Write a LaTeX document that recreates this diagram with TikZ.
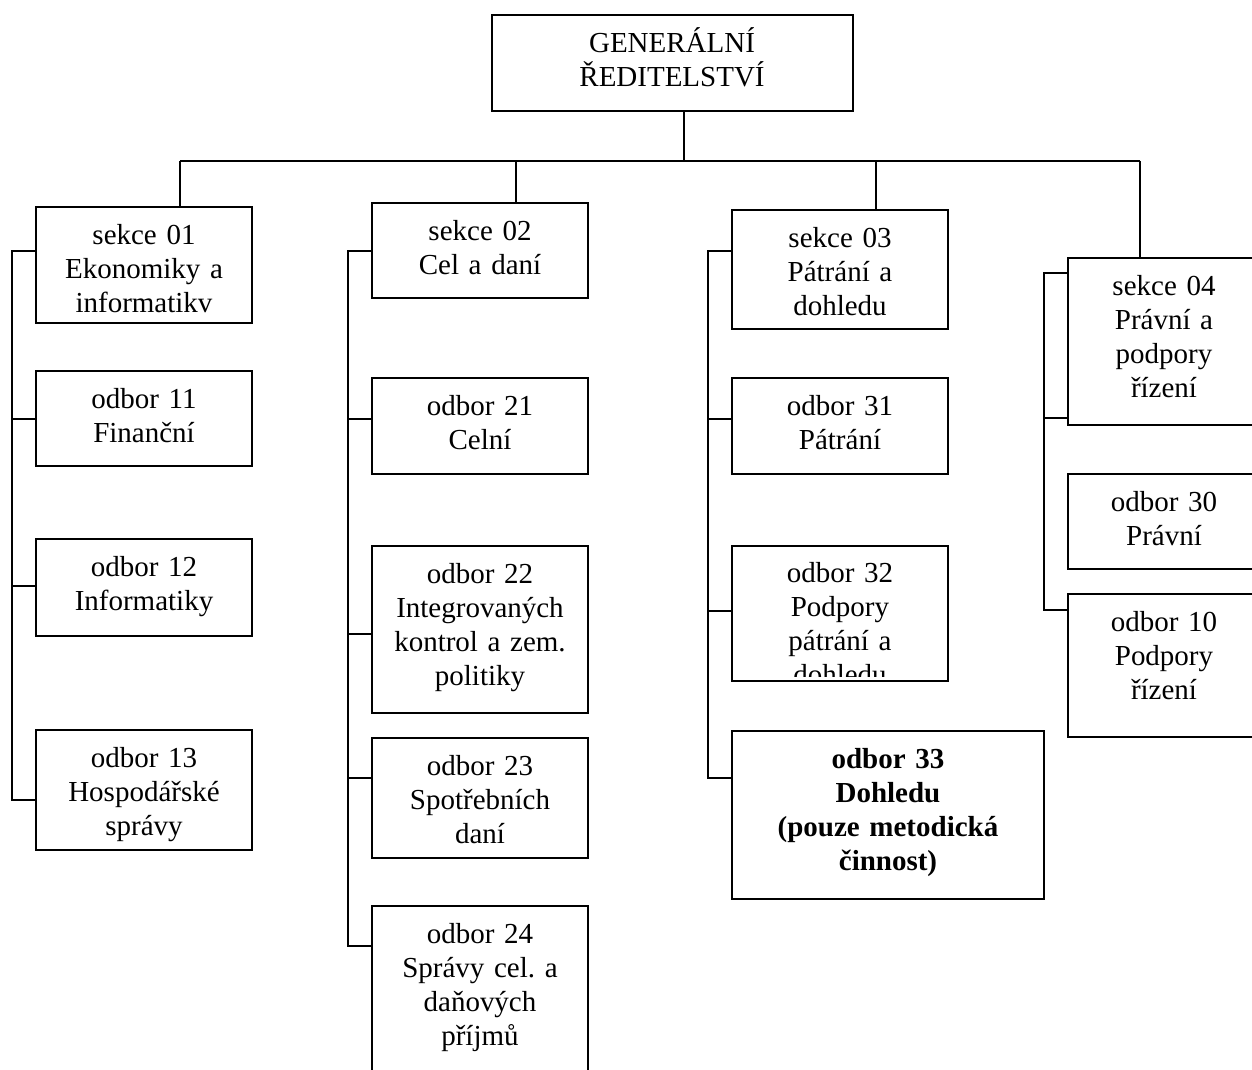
\documentclass[tikz,border=0pt]{standalone}
\usepackage{fontspec}
\setmainfont{Liberation Serif}
\frenchspacing
\usetikzlibrary{fit}
\tikzset{
  x=0.02cm, y=-0.02cm,
  box/.style={draw, line width=1.1pt, inner sep=0pt},
  lbl/.style={anchor=base, align=center, inner sep=0pt, text width=5cm,
              font=\fontsize{16.5}{19.27}\selectfont\frenchspacing},
  conn/.style={line width=1.1pt}
}
\begin{document}
\begin{tikzpicture}
\useasboundingbox (0,0) rectangle (1252,1070);
\clip (0,0) rectangle (1252,1070);

% boxes
\node[box, fit={(492,15) (853,111)}] (gr) {};
\node[box, fit={(36,207) (252,323)}] (s1) {};
\node[box, fit={(36,371) (252,466)}] (o11) {};
\node[box, fit={(36,539) (252,636)}] (o12) {};
\node[box, fit={(36,730) (252,850)}] (o13) {};
\node[box, fit={(372,203) (588,298)}] (s2) {};
\node[box, fit={(372,378) (588,474)}] (o21) {};
\node[box, fit={(372,546) (588,713)}] (o22) {};
\node[box, fit={(372,738) (588,858)}] (o23) {};
\node[box, fit={(372,906) (588,1090)}] (o24) {};
\node[box, fit={(732,210) (948,329)}] (s3) {};
\node[box, fit={(732,378) (948,474)}] (o31) {};
\node[box, fit={(732,546) (948,681)}] (o32) {};
\node[box, fit={(732,731) (1044,899)}] (o33) {};
\node[box, fit={(1068,258) (1264,425)}] (s4) {};
\node[box, fit={(1068,474) (1264,569)}] (o30) {};
\node[box, fit={(1068,594) (1264,737)}] (o10) {};

% labels
\node[lbl] (grt) at (672,53) {GENERÁLNÍ\\ŘEDITELSTVÍ};
\node[lbl] (s1t) at (144,245) {sekce 01\\Ekonomiky a\\informatikv};
\node[lbl] (o11t) at (144,409) {odbor 11\\Finanční};
\node[lbl] (o12t) at (144,577) {odbor 12\\Informatiky};
\node[lbl] (o13t) at (144,768) {odbor 13\\Hospodářské\\správy};
\node[lbl] (s2t) at (480,241) {sekce 02\\Cel a daní};
\node[lbl] (o21t) at (480,416) {odbor 21\\Celní};
\node[lbl] (o22t) at (480,584) {odbor 22\\Integrovaných\\kontrol a zem.\\politiky};
\node[lbl] (o23t) at (480,776) {odbor 23\\Spotřebních\\daní};
\node[lbl] (o24t) at (480,944) {odbor 24\\Správy cel. a\\daňových\\příjmů};
\node[lbl] (s3t) at (840,248) {sekce 03\\Pátrání a\\dohledu};
\node[lbl] (o31t) at (840,416) {odbor 31\\Pátrání};
\begin{scope}
  \clip ([yshift=0.1cm]o32.south west) rectangle (o32.north east);
  \node[lbl] (o32t) at (840,583) {odbor 32\\Podpory\\pátrání a\\dohledu};
\end{scope}
\node[lbl, text width=6.5cm, font=\fontsize{16.5}{19.27}\selectfont\bfseries] (o33t) at (888,769) {odbor 33\\Dohledu\\(pouze metodická\\činnost)};
\node[lbl] (s4t) at (1164,296) {sekce 04\\Právní a\\podpory\\řízení};
\node[lbl] (o30t) at (1164,512) {odbor 30\\Právní};
\node[lbl] (o10t) at (1164,632) {odbor 10\\Podpory\\řízení};

% top bar
\coordinate (barL) at (180,161);
\coordinate (barM) at (684,161);
\coordinate (bar2) at (516,161);
\coordinate (bar3) at (876,161);
\coordinate (barR) at (1140,161);
\draw[conn] (barM |- gr.south) -- (barM);
\draw[conn] (barL) -- (barR);
\draw[conn] (barL) -- (barL |- s1.north);
\draw[conn] (bar2) -- (bar2 |- s2.north);
\draw[conn] (bar3) -- (bar3 |- s3.north);
\draw[conn] (barR) -- (barR |- s4.north);

% column 1 spine
\coordinate (k1a) at (12,251);
\coordinate (k1b) at (12,419);
\coordinate (k1c) at (12,586);
\coordinate (k1d) at (12,800);
\draw[conn] (s1.west |- k1a) -- (k1a) -- (k1d) -- (o13.west |- k1d);
\draw[conn] (k1b) -- (o11.west |- k1b);
\draw[conn] (k1c) -- (o12.west |- k1c);

% column 2 spine
\coordinate (k2a) at (348,251);
\coordinate (k2b) at (348,419);
\coordinate (k2c) at (348,634);
\coordinate (k2d) at (348,778);
\coordinate (k2e) at (348,946);
\draw[conn] (s2.west |- k2a) -- (k2a) -- (k2e) -- (o24.west |- k2e);
\draw[conn] (k2b) -- (o21.west |- k2b);
\draw[conn] (k2c) -- (o22.west |- k2c);
\draw[conn] (k2d) -- (o23.west |- k2d);

% column 3 spine
\coordinate (k3a) at (708,251);
\coordinate (k3b) at (708,419);
\coordinate (k3c) at (708,611);
\coordinate (k3d) at (708,778);
\draw[conn] (s3.west |- k3a) -- (k3a) -- (k3d) -- (o33.west |- k3d);
\draw[conn] (k3b) -- (o31.west |- k3b);
\draw[conn] (k3c) -- (o32.west |- k3c);

% column 4 spine
\coordinate (k4a) at (1044,273);
\coordinate (k4b) at (1044,418);
\coordinate (k4c) at (1044,610);
\draw[conn] (s4.west |- k4a) -- (k4a) -- (k4c) -- (o10.west |- k4c);
\draw[conn] (k4b) -- (s4.west |- k4b);
\end{tikzpicture}
\end{document}
